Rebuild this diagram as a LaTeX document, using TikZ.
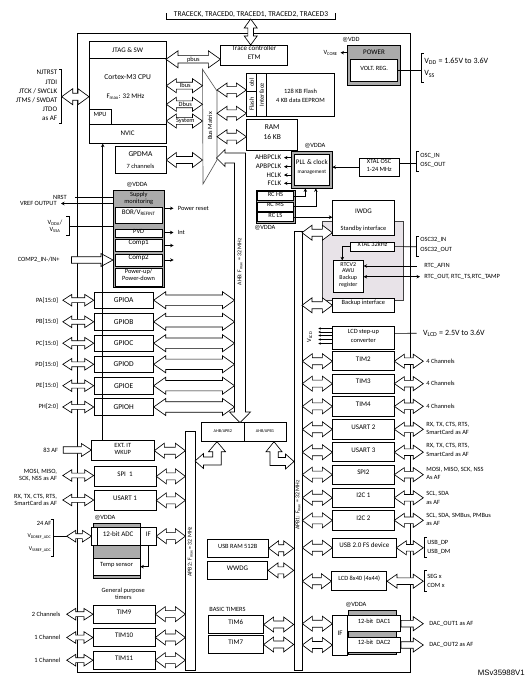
\documentclass[tikz,border=0pt]{standalone}
\usepackage{fontspec}
\setmainfont{Carlito}
\newfontfamily\arialf{Liberation Sans}
\usetikzlibrary{arrows.meta,fit,calc}
\definecolor{bgray}{HTML}{ABABAB}
\definecolor{rtcgray}{HTML}{E8E3E8}
\newcommand{\fa}{\fontsize{7.5}{8.5}\selectfont}
\newcommand{\fs}{\fontsize{7}{8}\selectfont}
\newcommand{\fss}{\fontsize{6.4}{7}\selectfont}
\newcommand{\fsss}{\fontsize{5.8}{6.5}\selectfont}
\newcommand{\fst}{\fontsize{4.3}{5}\selectfont}
\newcommand{\sbs}[1]{\textsubscript{#1}}
\tikzset{
  box/.style={draw, fill=white, inner sep=0pt, align=center, font=\fs},
  gbox/.style={draw, fill=bgray, inner sep=0pt},
  fatar/.style={draw, fill=white, line join=miter},
  sig/.style={-{Stealth[length=3.5pt,width=3.5pt]}},
  txt/.style={inner sep=0pt, font=\fs},
  lpin/.style={inner sep=0pt, font=\fs, anchor=east, align=right},
  rpin/.style={inner sep=0pt, font=\fs, anchor=west, align=left},
}
\newcommand{\bx}[7][]{\node[box,fit={(#3,#4)(#5,#6)},#1] (#2) {#7};}
% double horizontal fat arrow: left point, right point, head length, head half width, shaft half width
\newcommand{\DAH}[5]{\draw[fatar] let \p1=#1, \p2=#2 in
 (\x1,\y1) -- (\x1+#3,\y1+#4) -- (\x1+#3,\y1+#5) -- (\x2-#3,\y1+#5) -- (\x2-#3,\y1+#4) -- (\x2,\y1)
 -- (\x2-#3,\y1-#4) -- (\x2-#3,\y1-#5) -- (\x1+#3,\y1-#5) -- (\x1+#3,\y1-#4) -- cycle;}
\newcommand{\DAm}[2]{\DAH{#1}{#2}{10pt}{7.5pt}{3.5pt}}
\newcommand{\DAs}[2]{\DAH{#1}{#2}{9pt}{5.8pt}{2.4pt}}
\newcommand{\DAb}[2]{\DAH{#1}{#2}{12pt}{8.5pt}{5.2pt}}
% single right fat arrow
\newcommand{\SAR}[5]{\draw[fatar] let \p1=#1, \p2=#2 in
 (\x1,\y1+#5) -- (\x2-#3,\y1+#5) -- (\x2-#3,\y1+#4) -- (\x2,\y1) -- (\x2-#3,\y1-#4) -- (\x2-#3,\y1-#5) -- (\x1,\y1-#5) -- cycle;}
% vertical double fat arrow: top point, bottom point
\newcommand{\DAV}[5]{\draw[fatar] let \p1=#1, \p2=#2 in
 (\x1,\y1) -- (\x1+#4,\y1-#3) -- (\x1+#5,\y1-#3) -- (\x1+#5,\y2+#3) -- (\x1+#4,\y2+#3) -- (\x1,\y2)
 -- (\x1-#4,\y2+#3) -- (\x1-#5,\y2+#3) -- (\x1-#5,\y1-#3) -- (\x1-#4,\y1-#3) -- cycle;}
\begin{document}
\begin{tikzpicture}[x=1pt,y=-1pt,line width=0.65pt]
\useasboundingbox (0,0) rectangle (526,680);
\node[draw, inner sep=0pt, fit={(77,33)(410.7,672.7)}] (chip) {};

% ---------- top trace pins
\node[txt, font=\fa] (tracepins) at (251,14.6) {TRACECK, TRACED0, TRACED1, TRACED2, TRACED3};
\draw (166.7,13) -- (166.7,19) -- (335,19) -- (335,13);
\coordinate (trbr) at (250.7,19);

% ---------- Cortex
\bx{cpu}{89.3}{41.3}{166}{143.3}{}
\draw (89.3,58.3) -- (166,58.3);
\draw (89.3,124) -- (166,124);
\node[txt] (jtag) at (127.6,49.8) {JTAG \& SW};
\node[txt, font=\fa] (cm3) at (127.6,77) {Cortex-M3 CPU};
\node[txt] (fmax) at (125.5,97) {F\sbs{max}: 32 MHz};
\node[txt] (nvic) at (127.6,133.7) {NVIC};
\bx[font=\fss]{mpu}{89.3}{109}{111}{124}{MPU}
\bx{etm}{220.7}{45.3}{287.7}{65.3}{Trace controller\\[1pt]ETM}

\node[lpin, font=\fontsize{7}{9.1}\selectfont] (jpins) at (57.5,95.5) {NJTRST\\JTDI\\JTCK / SWCLK\\JTMS / SWDAT\\JTDO\\as AF};
\draw (59,69) -- (61.7,69) -- (61.7,123) -- (59,123);
\coordinate (jbr) at (61.7,96.7);

% ---------- bus matrix
\draw[gray!70!black, fill=white] (202.5,69.3) -- (217,91) -- (217,160) -- (203,184) -- cycle;
\node[txt, font=\fss, rotate=90] (bml) at (210,126) {Bus Matrix};
\coordinate (bmI) at (202.5,85.7);
\coordinate (bmD) at (202.5,104.3);
\coordinate (bmS) at (202.5,121);
\coordinate (bmG) at (202.5,160);
\coordinate (bmF1) at (217,90);
\coordinate (bmF2) at (217,113.3);
\coordinate (bmR) at (217,136.7);
\coordinate (pb) at (166,59.3);

% ---------- memories
\bx{flash}{246.7}{73.3}{334.3}{116}{}
\draw (256.7,73.3) -- (256.7,116);
\draw (266.7,73.3) -- (266.7,116);
\draw (246.7,91.7) -- (256.7,91.7);
\node[txt, font=\fss, rotate=90] (obl) at (251.7,82.5) {obl};
\node[txt, font=\fss, rotate=90] (flashl) at (251.7,104) {Flash};
\node[txt, font=\fss, rotate=90] (intf) at (261.7,94.7) {Interface};
\node[txt, font=\fss] (fl1) at (300.5,91.7) {128 KB Flash};
\node[txt, font=\fss] (fl2) at (300.5,100.7) {4 KB data EEPROM};
\bx[font=\fa]{ram}{246.7}{119.3}{297.7}{150}{RAM\\[1pt]16 KB}

\bx{gpdma}{115}{146.7}{166}{173.3}{}
\node[txt, font=\fa] (gpdmal) at (140.5,154) {GPDMA};
\node[txt, font=\fss] (gpdmac) at (140.5,166.7) {7 channels};

% ---------- power
\node[txt, font=\fss] (vddat) at (351,40) {@VDD};
\node[gbox, fit={(347.3,45)(400.7,85)}] (power) {};
\node[txt] (powerl) at (374,52) {POWER};
\bx[font=\fss]{vreg}{350.7}{59.3}{397.7}{81.7}{VOLT. REG.}
\node[lpin, font=\fss] (vcore) at (338,52.7) {V\sbs{CORE}};
\node[rpin, font=\fontsize{8}{9}\selectfont] (vdd) at (424,61.7) {V\sbs{DD} = 1.65V to 3.6V};
\node[rpin, font=\fontsize{8}{9}\selectfont] (vss) at (424,74) {V\sbs{SS}};
\draw (423.7,53) -- (421.7,53) -- (421.7,82.7) -- (423.7,82.7);
\coordinate (vbr) at (421.7,70.5);

% ---------- clocks
\node[txt, font=\fss] (vdda1) at (315,145.7) {@VDDA};
\node[gbox, fit={(291.7,151)(332,188)}] (pllg) {};
\bx{pll}{294.7}{154}{329}{185}{PLL \& clock\\[1pt]{\fontsize{5.3}{6}\selectfont management}}
\node[lpin] (ahbp) at (281.5,157.7) {AHBPCLK};
\node[lpin] (apbp) at (281.5,166.7) {APBPCLK};
\node[lpin] (hclk) at (281.5,175) {HCLK};
\node[lpin] (fclk) at (281.5,183.3) {FCLK};
\bx[font=\fss]{xtal}{359.3}{158.3}{399}{176}{XTAL OSC\\[1pt]1-24 MHz}
\draw (419,151) -- (416.7,151) -- (416.7,171) -- (419,171);
\coordinate (oscbr) at (416.7,163.5);
\node[rpin, font=\fss] (oscin) at (420,155.5) {OSC\_IN};
\node[rpin, font=\fss] (oscout) at (420,164.5) {OSC\_OUT};
\node[gbox, fit={(256,190)(295,223.3)}] (rcg) {};
\bx[font=\fss]{rchs}{257.5}{191.7}{293.3}{200.7}{RC HS}
\bx[font=\fss]{rcms}{257.5}{202.3}{293.3}{211}{RC MS}
\bx[font=\fss]{rcls}{257.5}{212.7}{293.3}{221.7}{RC LS}
\node[txt, font=\fss] (vdda2) at (265,228.3) {@VDDA};

% ---------- supply monitoring
\node[txt, font=\fss] (vdda3) at (137,185) {@VDDA};
\node[gbox, fit={(113.3,190)(164.3,287.7)}] (sup) {};
\node[txt, font=\fss, align=center] (supl) at (138.8,198.3) {Supply\\monitoring};
\bx{bor}{115}{207.3}{162.3}{223.3}{BOR/V\sbs{REFINT}}
\bx[font=\fss]{pvd}{115}{229.3}{162.3}{237.3}{PVD}
\bx{comp1}{115}{239.3}{162.3}{251.7}{Comp1}
\bx{comp2}{115}{254}{162.3}{266}{Comp2}
\bx[font=\fss]{pwr}{115}{268.3}{162.3}{286}{Power-up/\\Power-down}
\node[rpin, font=\fss] (preset) at (177.5,208.3) {Power reset};
\node[rpin, font=\fss] (intl) at (177.5,232.5) {Int};
\node[lpin, font=\fss] (nrst) at (67,197.3) {NRST};
\node[lpin, font=\fss] (vrefo) at (57,203.5) {VREF OUTPUT};
\node[inner sep=0pt, font=\fss, align=center] (vddal) at (55,226.3) {V\sbs{DDA}/\\V\sbs{SSA}};
\draw (66,216.7) -- (69.3,216.7) -- (69.3,235) -- (66,235);
\coordinate (vdbr) at (69.3,226);
\node[lpin, font=\fss] (comp2in) at (60,260) {COMP2\_IN-/IN+};

% ---------- GPIO
\foreach \g/\pn/\cy in {a/PA[15:0]/300.2, b/PB[15:0]/321.8, c/PC[15:0]/343.2, d/PD[15:0]/364.3, e/PE[15:0]/385.7, h/PH[2:0]/407}{
  \node[box, font=\fa, minimum width=59.3pt, minimum height=16.5pt] (gpio\g) at (123.7,\cy) {GPIO\MakeUppercase{\g}};
  \node[lpin, font=\fss] (pin\g) at (58.3,\cy) {\pn};
}
\coordinate (ahbL) at (234.5,300);

% ---------- left APB2 peripherals
\bx[font=\fss]{exti}{91.7}{440.7}{154}{460.7}{EXT. IT\\WKUP}
\node[lpin, font=\fss] (af83) at (58.3,450) {83 AF};
\coordinate (nvicx) at (102.7,300);
\bx{spi1}{94}{466.7}{156}{486}{SPI\ \ 1}
\node[lpin, font=\fss] (spi1p) at (57.3,475.5) {MOSI, MISO,\\SCK, NSS as AF};
\bx{usart1}{94}{490.7}{156}{510}{USART 1}
\node[lpin, font=\fss] (usart1p) at (57.3,500) {RX, TX, CTS, RTS,\\SmartCard as AF};
\node[txt, font=\fss] (vdda4) at (105,518.3) {@VDDA};
\node[gbox, fit={(93.3,523.3)(140.7,578.3)}] (adcg) {};
\bx{adc}{91.7}{527.3}{140.7}{545}{\hspace*{4pt}12-bit ADC}
\draw (97.3,527.3) -- (97.3,545);
\bx{adcif}{140.7}{527.3}{156}{545}{IF}
\bx[font=\fss]{temp}{93.3}{558.3}{140}{575}{Temp sensor}
\node[lpin, font=\fss] (af24) at (51.7,523.3) {24 AF};
\node[lpin, font=\fsss] (vddref) at (51.7,536.7) {V\sbs{DDREF\_ADC}};
\node[lpin, font=\fsss] (vssref) at (51.7,549.3) {V\sbs{SSREF\_ADC}};
\draw (50.5,519.3) -- (53.3,519.3) -- (53.3,556.7) -- (50.5,556.7);
\coordinate (adcbr) at (53.3,536.2);
\coordinate (adcpin) at (66.7,536.2);
\node[txt, font=\fss, align=center] (gpt) at (123.3,593.3) {General purpose\\timers};
\bx{tim9}{93.3}{605}{155}{623.3}{TIM9}
\bx{tim10}{93.3}{628.3}{155}{646.7}{TIM10}
\bx{tim11}{93.3}{651}{155}{669.3}{TIM11}
\node[lpin, font=\fss] (t9p) at (60.7,614.2) {2 Channels};
\node[lpin, font=\fss] (t10p) at (60.7,637.5) {1 Channel};
\node[lpin, font=\fss] (t11p) at (60.7,660.2) {1 Channel};

% ---------- buses
\node[draw, fill=white, inner sep=0pt, fit={(185.7,431.7)(195,670)}] (apb2) {};
\node[txt, font=\fsss, rotate=90] (apb2l) at (190.3,551.7) {APB2: F\sbs{max} = 32 MHz};
\node[draw, fill=white, inner sep=0pt, fit={(294,231)(302,670)}] (apb1) {};
\node[txt, font=\fsss, rotate=90] (apb1l) at (298,505) {APB1: F\sbs{max} = 32 MHz};
\bx[font=\fst]{br2}{201.7}{422.7}{244}{441.7}{AHB/APB2}
\bx[font=\fst]{br1}{244}{422.7}{286}{441.7}{AHB/APB1}

% ---------- centre APB1 peripherals
\bx[font=\fss]{usbram}{207.3}{539.3}{268.3}{557.3}{USB RAM 512B\hspace*{6pt}}
\bx{wwdg}{207.3}{561.7}{267.7}{579}{WWDG}
\node[txt, font=\fss, anchor=west] (basict) at (209,609.3) {BASIC TIMERS};
\bx{tim6}{208.3}{615.7}{263.3}{633.3}{TIM6}
\bx{tim7}{208.3}{635.7}{263.3}{653.3}{TIM7}

% ---------- RTC domain
\node[draw=black!75, fill=rtcgray, inner sep=0pt, fit={(322.7,221)(403.3,300)}] (rtcdom) {};
\bx{iwdg}{332.7}{200.7}{394.3}{235}{}
\node[txt] (iwdgl) at (363.5,211.7) {IWDG};
\node[txt, font=\fss] (stbl) at (363.5,229) {Standby interface};
\bx[font=\fss]{x32}{350.7}{242.3}{394.3}{251}{XTAL 32kHz}
\bx[font=\fontsize{6}{6.3}\selectfont]{rtc}{333.3}{260.7}{363.3}{292.7}{RTCV2\\AWU\\[1pt]Backup\\register}
\bx[font=\fss]{bkp}{332.7}{298}{394}{312.7}{Backup interface}
\draw (419,236) -- (416.7,236) -- (416.7,256) -- (419,256);
\coordinate (o32br) at (416.7,246.7);
\node[rpin, font=\fss] (osc32in) at (420,240.3) {OSC32\_IN};
\node[rpin, font=\fss] (osc32out) at (420,250) {OSC32\_OUT};
\node[rpin, font=\fss] (afin) at (424,266) {RTC\_AFIN};
\node[rpin, font=\fss] (rtcout) at (424,276.7) {RTC\_OUT, RTC\_TS,RTC\_TAMP};
\coordinate (afinp) at (416.7,266);
\coordinate (rtcoutp) at (420,276.7);
\coordinate (sb) at (302,232.7);
\coordinate (bk) at (302,305.3);

% ---------- right APB1 peripherals
\bx[font=\fss]{lcdsu}{332.7}{326}{394}{349.3}{LCD step-up\\[2pt]converter}
\node[txt, font=\fss, rotate=90] (vlcd) at (309.5,337) {V\sbs{LCD}};
\node[rpin, font=\fontsize{8}{9}\selectfont] (vlcdr) at (422.7,333.3) {V\sbs{LCD} = 2.5V to 3.6V};
\coordinate (lcdbr) at (416.7,333.3);
\bx{tim2}{332.7}{351.7}{394}{370.7}{TIM2}
\bx{tim3}{332.7}{374}{394}{393.3}{TIM3}
\bx{tim4}{332.7}{396.7}{394}{416}{TIM4}
\bx{usart2}{332.7}{419.3}{394}{439.3}{USART 2}
\bx{usart3}{332.7}{442.7}{394}{461.7}{USART 3}
\bx{spi2}{332.7}{465}{394}{484.3}{SPI2}
\bx{i2c1}{332.7}{488.3}{394}{507.3}{I2C 1}
\bx{i2c2}{332.7}{510.7}{394}{530}{I2C 2}
\bx{usb}{332.7}{538.3}{396}{557.3}{USB 2.0 FS device}
\bx[font=\fss]{lcd}{331.7}{571.7}{386.7}{590.7}{LCD 8x40 (4x44)}
\coordinate (rpx) at (423.3,400);
\node[rpin, font=\fss] (t2p) at (426,361.2) {4 Channels};
\node[rpin, font=\fss] (t3p) at (426,383.7) {4 Channels};
\node[rpin, font=\fss] (t4p) at (426,406.3) {4 Channels};
\node[rpin, font=\fontsize{6.4}{8.6}\selectfont] (u2p) at (426,428.4) {RX, TX, CTS, RTS,\\SmartCard as AF};
\node[rpin, font=\fontsize{6.4}{8.6}\selectfont] (u3p) at (426,450) {RX, TX, CTS, RTS,\\SmartCard as AF};
\node[rpin, font=\fontsize{6.4}{8.6}\selectfont] (s2p) at (426,473.3) {MOSI, MISO, SCK, NSS\\As AF};
\node[rpin, font=\fontsize{6.4}{8.6}\selectfont] (i1p) at (426,497.8) {SCL, SDA\\as AF};
\node[rpin, font=\fontsize{6.4}{8.6}\selectfont] (i2p) at (426,519.5) {SCL, SDA, SMBus, PMBus\\as AF};
\draw (426.5,537.3) -- (424,537.3) -- (424,557.3) -- (426.5,557.3);
\node[rpin, font=\fss] (usbdp) at (427,542.7) {USB\_DP};
\node[rpin, font=\fss] (usbdm) at (427,551.7) {USB\_DM};
\draw (426.5,570.7) -- (424,570.7) -- (424,591.7) -- (426.5,591.7);
\node[rpin, font=\fss] (segx) at (427,576) {SEG x};
\node[rpin, font=\fss] (comx) at (427,585) {COM x};

% ---------- DAC
\node[txt, font=\fss] (vdda5) at (356,605) {@VDDA};
\node[gbox, fit={(348.3,610.7)(396.7,654)}] (dacg) {};
\bx{dacif}{332.7}{615.7}{347.7}{655}{IF}
\bx[font=\fss]{dac1}{347.7}{615.7}{400.7}{631.7}{12-bit\ \ DAC1}
\bx[font=\fss]{dac2}{347.7}{637.3}{400.7}{652.7}{12-bit\ \ DAC2}
\node[rpin, font=\fss] (dout1) at (429,623.7) {DAC\_OUT1 as AF};
\node[rpin, font=\fss] (dout2) at (429,645) {DAC\_OUT2 as AF};

\node[font=\arialf\fontsize{7.8}{8.5}\selectfont, anchor=east, inner sep=0pt] (ref) at (525,673) {MSv35988V1};

% ================= connectors
\DAV{(trbr)}{(trbr |- etm.north)}{9pt}{6.5pt}{2.8pt}
\DAH{(jbr)}{(jbr -| cpu.west)}{11pt}{8pt}{3.5pt}
\DAH{(pb)}{(pb -| etm.west)}{12pt}{8.5pt}{3.7pt}
\node[txt, font=\fss] (pbusl) at (193.4,59.3) {pbus};
\DAH{(cpu.east |- bmI)}{(bmI)}{10pt}{7pt}{3.4pt}
\node[txt, font=\fss] (ibusl) at (185.3,85.7) {Ibus};
\DAH{(cpu.east |- bmD)}{(bmD)}{10pt}{7pt}{3.4pt}
\node[txt, font=\fss] (dbusl) at (185.3,104.3) {Dbus};
\DAH{(cpu.east |- bmS)}{(bmS)}{10pt}{7pt}{3.4pt}
\node[txt, font=\fss] (sysl) at (185.3,121) {System};
\DAm{(gpdma.east |- bmG)}{(bmG)}
\DAH{(bmF1)}{(bmF1 -| flash.west)}{10pt}{7pt}{3.4pt}
\DAH{(bmF2)}{(bmF2 -| flash.west)}{10pt}{7pt}{3.4pt}
\DAH{(bmR)}{(bmR -| ram.west)}{10pt}{7pt}{3.4pt}

% AHB bus arrow
\draw[fatar] (216.5,158) -- (225,149.5) -- (225,153) -- (245.5,153) -- (245.5,412) -- (250.5,412)
  -- (240,422.7) -- (229.5,412) -- (234.5,412) -- (234.5,163) -- (225,163) -- (225,166.5) -- cycle;
\node[txt, font=\fsss, rotate=90] (ahbl) at (240,262) {AHB: F\sbs{max} = 32 MHz};
% bridges to APB buses
\draw[fatar] (217,441.7) -- (225.5,451.7) -- (221.2,451.7) -- (221.2,465) -- (203.5,465) -- (203.5,468.5)
  -- (195,461) -- (203.5,453.5) -- (203.5,457) -- (212.8,457) -- (212.8,451.7) -- (208.5,451.7) -- cycle;
\draw[fatar] (274,441.7) -- (282,451.7) -- (278.3,451.7) -- (278.3,457.5) -- (285.5,457.5) -- (285.5,454)
  -- (294,461.5) -- (285.5,469) -- (285.5,465.5) -- (270,465.5) -- (270,451.7) -- (266,451.7) -- cycle;

% power / clocks
\draw[sig] (power.west |- vcore) -- ([xshift=2.5pt]vcore.east);
\draw (vreg.east) -- (vbr);
\foreach \n in {ahbp,apbp,hclk,fclk}{\draw[sig] (pllg.west |- \n.east) -- ([xshift=2.5pt]\n.east);}
\draw[sig] (xtal.west) -- (xtal.west -| pllg.east);
\draw (xtal.east |- oscbr) -- (oscbr);
\draw[sig] (rchs.east) -| ([xshift=-6.5pt]pllg.south);
\draw[sig] (rcms.east) -| ([xshift=4pt]pllg.south);
\draw[sig] (rcls.east) -- (rcls.east -| iwdg.west);

% supply monitoring
\draw[sig] (sup.east |- preset) -- ([xshift=-4pt]preset.west);
\draw[sig] (sup.east |- intl) -- ([xshift=-4pt]intl.west);
\draw[sig] (sup.east |- comp1) -- ([xshift=9pt]sup.east |- comp1);
\draw[sig] (sup.east |- comp2) -- ([xshift=9pt]sup.east |- comp2);
\draw ([xshift=8pt]nrst.east) -- (sup.west |- nrst.east);
\draw[sig] (sup.west |- vrefo.east) -- ([xshift=4pt]vrefo.east);
\draw (vdbr) -- (vdbr -| sup.west);
\SAR{([xshift=11.5pt]comp2in.east)}{(comp2.west -| sup.west)}{12pt}{6.5pt}{3.3pt}
\draw[sig] (exti.north -| nvicx) -- (nvicx |- cpu.south);

% GPIO
\foreach \g in {a,b,c,d,e,h}{
  \DAs{([xshift=4.5pt]pin\g.east)}{(gpio\g.west)}
  \DAb{(gpio\g.east)}{(gpio\g.east -| ahbL)}
}

% left APB2 peripherals
\SAR{([xshift=5pt]af83.east)}{(exti.west)}{10pt}{6.5pt}{3.3pt}
\DAm{(exti.east)}{(exti.east -| apb2.west)}
\DAs{([xshift=5.5pt]spi1p.east)}{(spi1p.east -| spi1.west)}
\DAm{(spi1.east)}{(spi1.east -| apb2.west)}
\DAs{([xshift=5.5pt]usart1p.east)}{(usart1p.east -| usart1.west)}
\DAm{(usart1.east)}{(usart1.east -| apb2.west)}
\draw (adcbr) -- (adcpin);
\DAs{(adcpin)}{(adcpin -| adc.west)}
\DAm{(adcif.east)}{(adcif.east -| apb2.west)}
\draw[sig] (adcif.south) |- (temp.east);
\foreach \tn/\pn in {tim9/t9p,tim10/t10p,tim11/t11p}{
  \DAs{([xshift=6pt]\pn.east)}{(\pn.east -| \tn.west)}
  \DAm{(\tn.east)}{(\tn.east -| apb2.west)}
}

% centre
\foreach \bn in {usbram,wwdg,tim6,tim7}{
  \DAm{(\bn.east)}{(\bn.east -| apb1.west)}
}

% right column
\DAm{(sb)}{(sb -| iwdg.west)}
\DAm{(bk)}{(bk -| bkp.west)}
\draw (x32.east) -- (o32br);
\draw[sig] (x32.west) -| ([xshift=-6pt]rtc.north);
\draw[sig] (afinp) -- (afinp -| rtc.east);
\draw[{Stealth[length=3.5pt,width=3.5pt]}-{Stealth[length=3.5pt,width=3.5pt]}] (rtcoutp -| rtc.east) -- (rtcoutp);
\draw ([yshift=4.3pt]lcdsu.east) -- (lcdbr);
\foreach \yy in {328.5,332,335.5,339.5,343.5}{\draw[-{Stealth[length=2.5pt,width=2.5pt]}] (332.7,\yy) -- (318.3,\yy);}
\foreach \bn in {tim2,tim3,tim4,usart2,usart3,spi2,i2c1,i2c2,usb,lcd}{
  \DAm{(apb1.east |- \bn.west)}{(\bn.west)}
  \DAH{(\bn.east)}{(\bn.east -| rpx)}{10pt}{7pt}{3.3pt}
}
\DAm{(apb1.east |- dac1)}{(dac1 -| dacif.west)}
\DAm{(apb1.east |- dac2)}{(dac2 -| dacif.west)}
\SAR{(dac1.east)}{(dac1.east -| rpx)}{10pt}{7pt}{3.3pt}
\SAR{(dac2.east)}{(dac2.east -| rpx)}{10pt}{7pt}{3.3pt}
\end{tikzpicture}
\end{document}
